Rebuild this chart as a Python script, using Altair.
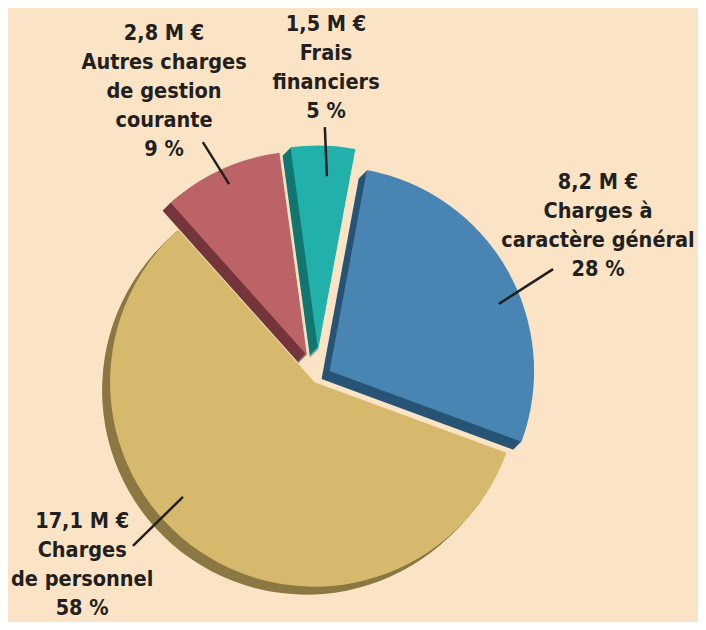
import altair as alt
import pandas as pd

# ---- data ----
CATEGORIES = [
    "Charges à caractère général",
    "Charges de personnel",
    "Autres charges de gestion courante",
    "Frais financiers",
]
VALUES = [8.2, 17.1, 2.8, 1.5]  # M€
VALUE_LABELS = ["8,2 M €", "17,1 M €", "2,8 M €", "1,5 M €"]
PERCENT_LABELS = ["28 %", "58 %", "9 %", "5 %"]
NAME_LINES = [
    ["Charges à", "caractère général"],
    ["Charges", "de personnel"],
    ["Autres charges", "de gestion", "courante"],
    ["Frais", "financiers"],
]

# ---- styles ----
FACE = ["#4885B2", "#D6B96C", "#BB6366", "#22B1AA"]
SIDE = ["#285475", "#8B7843", "#74363B", "#127670"]
EXPLODE = [14, 5, 25, 28]                # px, along each slice's mid angle
LABEL_ANGLE = [61.6, 231.5, 331.8, 1.6]  # deg, clockwise from 12 o'clock
LABEL_RADIUS = [319, 300.6, 324.5, 310]
LEAD_A_IN = [67.8, 228.5, 335.5, 2.7]
LEAD_R_IN = [196, 179.5, 213, 202]
LEAD_A_OUT = [65.2, 227.7, 334.1, 1.7]
LEAD_R_OUT = [259.6, 249.4, 262.3, 251]

BG = "#FAE4C5"
INK = "#231F20"
W, H = 690, 614
CX, CY = 309.4, 370.0
R = 204.5
START_DEG = 10.5
DEPTH = 8
LINE_H = 29

df = pd.DataFrame({
    "category": CATEGORIES,
    "value": VALUES,
    "order": list(range(len(CATEGORIES))),
    "label": ["\n".join([v] + n + [p]) for v, n, p in zip(VALUE_LABELS, NAME_LINES, PERCENT_LABELS)],
    "nlines": [len(n) + 2 for n in NAME_LINES],
    "face": FACE,
    "side": SIDE,
    "explode": EXPLODE,
    "la": LABEL_ANGLE,
    "lr": LABEL_RADIUS,
    "ai": LEAD_A_IN,
    "ri": LEAD_R_IN,
    "ao": LEAD_A_OUT,
    "ro": LEAD_R_OUT,
})

base = (
    alt.Chart(df)
    .transform_joinaggregate(total="sum(value)")
    .transform_window(cum="sum(value)", sort=[alt.SortField("order")], frame=[None, 0])
    .transform_calculate(
        t0=f"{START_DEG}*PI/180 + 2*PI*(datum.cum - datum.value)/datum.total",
        t1=f"{START_DEG}*PI/180 + 2*PI*datum.cum/datum.total",
    )
    .transform_calculate(mid="(datum.t0 + datum.t1)/2")
    .transform_calculate(
        cx=f"{CX} + datum.explode*sin(datum.mid)",
        cy=f"{CY} - datum.explode*cos(datum.mid)",
    )
)

layers = []
for k in range(DEPTH, 0, -1):
    layers.append(
        base.transform_calculate(sx=f"datum.cx - {k}", sy=f"datum.cy + {k}")
        .mark_arc(radius=R)
        .encode(
            x=alt.X("sx:Q", scale=None),
            y=alt.Y("sy:Q", scale=None),
            theta=alt.Theta("t0:Q", scale=None, stack=False),
            theta2=alt.Theta2("t1"),
            color=alt.Color("side:N", scale=None),
        )
    )

faces = base.mark_arc(radius=R).encode(
    x=alt.X("cx:Q", scale=None),
    y=alt.Y("cy:Q", scale=None),
    theta=alt.Theta("t0:Q", scale=None, stack=False),
    theta2=alt.Theta2("t1"),
    color=alt.Color("face:N", scale=None),
)
layers.append(faces)

leaders = (
    alt.Chart(df)
    .transform_calculate(
        x1=f"{CX} + datum.ri*sin(datum.ai*PI/180)",
        y1=f"{CY} - datum.ri*cos(datum.ai*PI/180)",
        x2=f"{CX} + datum.ro*sin(datum.ao*PI/180)",
        y2=f"{CY} - datum.ro*cos(datum.ao*PI/180)",
    )
    .mark_rule(color=INK, strokeWidth=2.5)
    .encode(
        x=alt.X("x1:Q", scale=None),
        y=alt.Y("y1:Q", scale=None),
        x2=alt.X2("x2"),
        y2=alt.Y2("y2"),
    )
)
layers.append(leaders)

labels = (
    alt.Chart(df)
    .transform_calculate(
        tx=f"{CX} + datum.lr*sin(datum.la*PI/180)",
        ty=f"{CY} - datum.lr*cos(datum.la*PI/180) - (datum.nlines - 1)*{LINE_H}/2",
    )
    .mark_text(
        font="DejaVu Sans Condensed", fontWeight="bold", fontSize=21.5, lineHeight=LINE_H,
        align="center", baseline="middle", lineBreak="\n", color=INK,
    )
    .encode(
        x=alt.X("tx:Q", scale=None),
        y=alt.Y("ty:Q", scale=None),
        text="label:N",
    )
)
layers.append(labels)

chart = (
    alt.layer(*layers)
    .properties(width=W, height=H, padding=0, autosize="none", background=BG)
    .configure_view(stroke=None)
)

chart.save("out.html", embed_options={"renderer": "svg", "actions": False})
